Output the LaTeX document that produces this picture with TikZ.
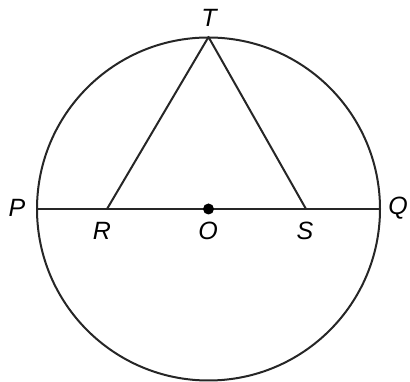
\documentclass[tikz,border=0pt]{standalone}
\usepackage{fontspec}
\setmainfont{Liberation Sans}
\begin{document}
\begin{tikzpicture}[x=1pt,y=1pt,
  lbl/.style={font=\fontsize{25}{27}\selectfont\itshape, inner sep=0pt},
  ln/.style={line width=2pt, black!85}]
\useasboundingbox (0,0) rectangle (410,382);
\coordinate (O) at (208.5,173);
\coordinate (P) at (37,173);
\coordinate (Q) at (380,173);
\coordinate (R) at (107,173);
\coordinate (S) at (306,173);
\coordinate (T) at (208.5,345);
\draw[ln] (O) circle (171.5);
\draw[ln] (P) -- (Q);
\draw[ln, line join=round] (R) -- (T) -- (S);
\fill (O) circle (5.5);
\node[lbl] (lP) at (17,174) {P};
\node[lbl] (lQ) at (398,174) {Q};
\node[lbl] (lT) at (209,364) {T};
\node[lbl] (lR) at (102,151) {R};
\node[lbl] (lO) at (208,151) {O};
\node[lbl] (lS) at (305,151) {S};
\end{tikzpicture}
\end{document}
